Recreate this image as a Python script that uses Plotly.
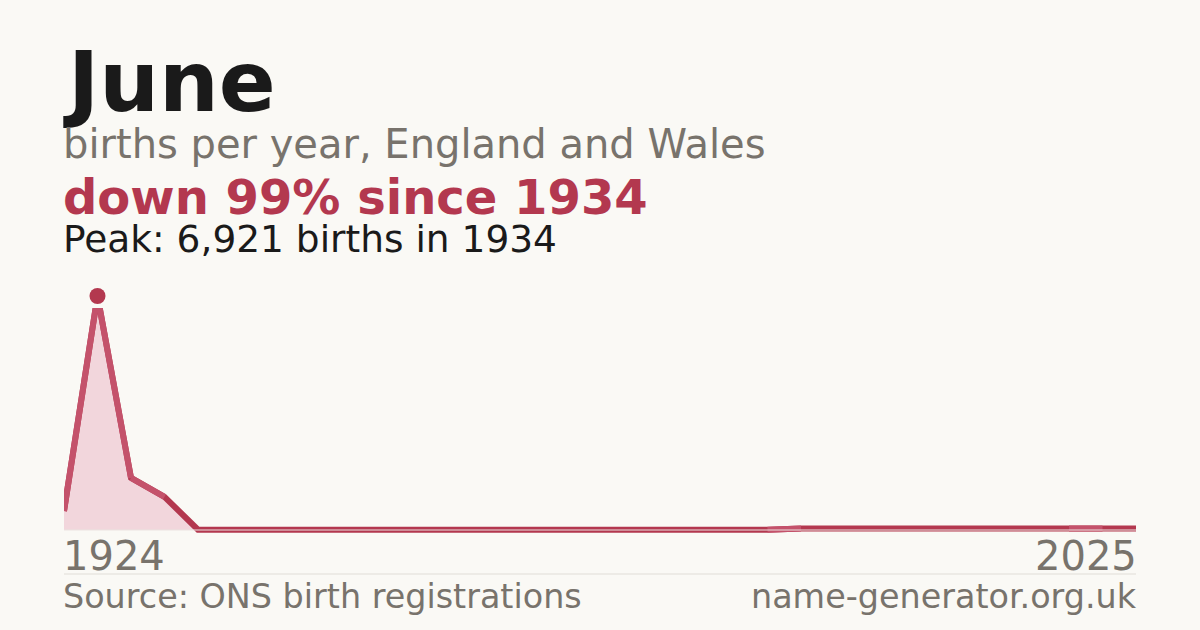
import plotly.graph_objects as go

name = "June"
peak_year = 1934
peak_births = 6921

years = [1924, 1934, 1944, 1954, 1964] + list(range(1996, 2013)) + list(range(2014, 2023)) + [2024, 2025]
births = [560, 6921, 1540, 980, 10,
          5, 4, 6, 5, 3, 4, 5, 6, 4, 5, 3, 5, 4, 6, 5, 4, 6,
          42, 45, 48, 44, 41, 46, 49, 45, 43,
          44, 47]

# segments drawn in a softer tone
soft_segments = [(1924, 1934), (1934, 1944), (1944, 1954), (2012, 2014), (2022, 2024)]

RED = "#b3384f"
SOFT = "#c4526b"
GREY = "#78736c"
INK = "#1a1a1a"
BG = "#faf9f5"

x = [str(y) for y in years]

W, H = 1200, 630
L, R, T, B = 64, 64, 280, 96
PLOT_H = H - T - B          # 254 px
LINE_H = 226                # line panel is clipped lower than the marker panel
PER_PX = 6566 / 222         # births per pixel
Y_MIN = -4 * PER_PX


def py(pixel):
    # pixel row -> paper y
    return (H - B - pixel) / PLOT_H


fig = go.Figure()

fig.add_trace(go.Scatter(
    x=x, y=births, mode="lines",
    line=dict(color=RED, width=6),
    fill="tozeroy", fillcolor="#f2d6dc",
    hoverinfo="skip",
))

for a, b in soft_segments:
    fig.add_trace(go.Scatter(
        x=[str(a), str(b)],
        y=[births[years.index(a)], births[years.index(b)]],
        mode="lines", line=dict(color=SOFT, width=6),
        hoverinfo="skip",
    ))

fig.add_trace(go.Scatter(
    x=[str(peak_year)], y=[peak_births], mode="markers",
    marker=dict(color=RED, size=16, symbol="circle"),
    yaxis="y2", cliponaxis=False, hoverinfo="skip",
))

# baseline
fig.add_shape(type="line", xref="paper", yref="y", x0=0, x1=1, y0=0, y1=0,
              line=dict(color="#ebe4e1", width=1), layer="above")
# separator
fig.add_shape(type="line", xref="paper", yref="paper", x0=0, x1=1, y0=py(574), y1=py(574),
              line=dict(color="#e0ddd7", width=1))

latest = births[-1]
drop = round((1 - latest / peak_births) * 100)

texts = [
    (name, 0, py(82), "left", 84, INK, True),
    ("births per year, England and Wales", 0, py(144), "left", 40, GREY, False),
    (f"down {drop}% since {peak_year}", 0, py(197), "left", 48, RED, True),
    (f"Peak: {peak_births:,} births in {peak_year}", 0, py(239), "left", 37.5, INK, False),
    (str(years[0]), 0, py(556), "left", 40, GREY, False),
    (str(years[-1]), 1, py(556), "right", 40, GREY, False),
    ("Source: ONS birth registrations", 0, py(596), "left", 33.4, GREY, False),
    ("name-generator.org.uk", 1, py(596), "right", 33.4, GREY, False),
]
for txt, xp, yp, anchor, size, color, bold in texts:
    fig.add_annotation(
        text=f"<b>{txt}</b>" if bold else txt,
        xref="paper", yref="paper", x=xp, y=yp,
        xanchor=anchor, yanchor="middle", showarrow=False,
        xshift=-3 if anchor == "left" else 3,
        font=dict(family="DejaVu Sans", size=size, color=color),
    )

fig.update_layout(
    width=W, height=H,
    margin=dict(l=L, r=R, t=T, b=B),
    paper_bgcolor=BG, plot_bgcolor="rgba(0,0,0,0)",
    showlegend=False,
    xaxis=dict(type="category", range=[0, len(years) - 1], visible=False),
    yaxis=dict(range=[Y_MIN, Y_MIN + LINE_H * PER_PX], domain=[0, LINE_H / PLOT_H],
               visible=False),
    yaxis2=dict(range=[Y_MIN, Y_MIN + PLOT_H * PER_PX], domain=[0, 1], visible=False,
                anchor="x"),
)

fig.write_html("out.html", config={"displayModeBar": False},
               post_script="document.body.style.margin='0';")
